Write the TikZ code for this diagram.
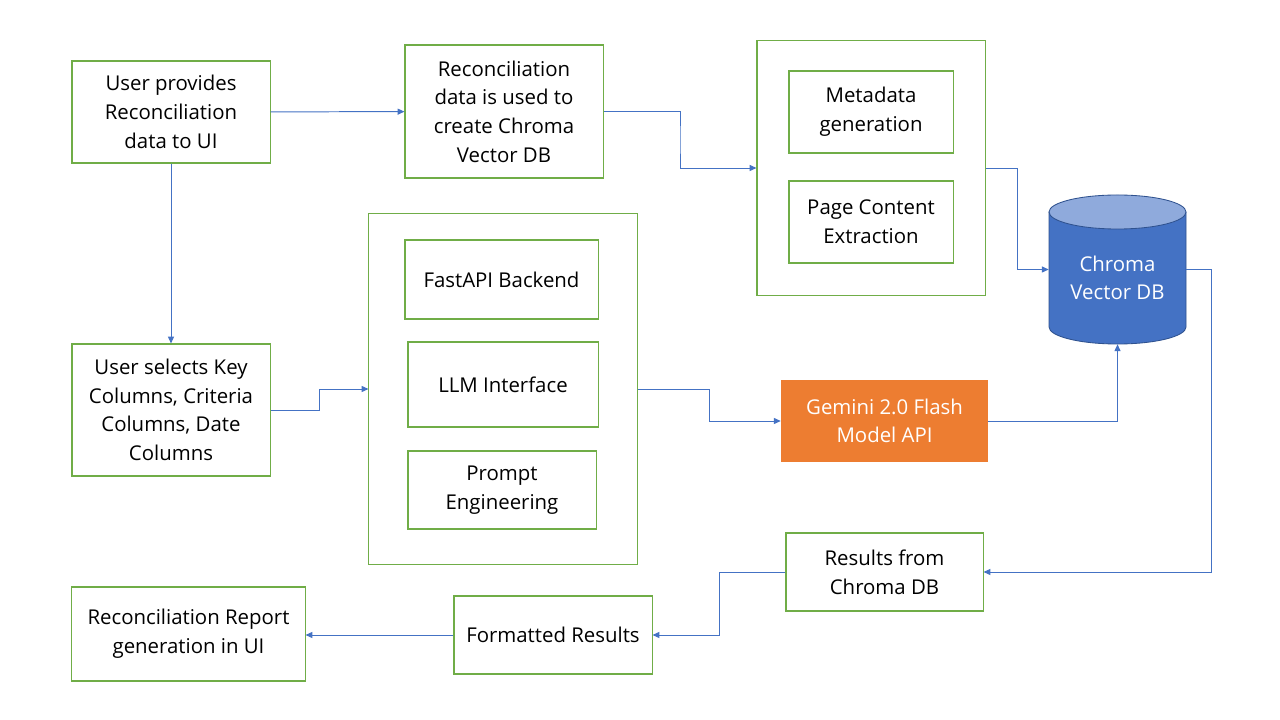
\documentclass[tikz,border=0pt]{standalone}
\usepackage{fontspec}
\setmainfont{Open Sans}
\usetikzlibrary{arrows.meta,calc}
\definecolor{boxgreen}{HTML}{70AD47}
\definecolor{linkblue}{HTML}{4472C4}
\definecolor{dbtop}{HTML}{8FAADC}
\definecolor{dbline}{HTML}{2F528F}
\definecolor{gemorange}{HTML}{ED7D31}

\begin{document}
\begin{tikzpicture}[x=0.025cm, y=-0.025cm,
    every node/.style={font=\fontsize{14.5}{20.4}\selectfont, align=center, inner sep=0pt},
    box/.style={draw=boxgreen, line width=0.75pt, fill=white},
    link/.style={draw=linkblue, line width=0.7pt, -{Triangle[length=0.17cm, width=0.15cm]}}]

      \useasboundingbox[fill=white] (0,0) rectangle (1280,720);

      % top row
      \node[box, minimum width=4.95cm, minimum height=2.55cm] (up) at (171,112) {User provides\\Reconciliation\\data to UI};
      \node[box, minimum width=4.95cm, minimum height=3.325cm] (rd) at (504,111.5) {Reconciliation\\data is used to\\create Chroma\\Vector DB};

      \node[box, minimum width=5.7cm, minimum height=6.35cm] (meta) at (871,168) {};
      \node[box, minimum width=4.1cm, minimum height=2.05cm] (md) at (871,112) {Metadata\\generation};
      \node[box, minimum width=4.1cm, minimum height=2.05cm] (pc) at (871,222) {Page Content\\Extraction};

      % vector store
      \node[minimum width=3.425cm, minimum height=3.725cm] (cyl) at (1117.5,269.5) {};
      \fill[linkblue] (1049,212) -- (1049,327) arc[start angle=180, end angle=360, x radius=1.7125cm, y radius=0.425cm] -- (1186,212) -- cycle;
      \draw[dbline, line width=0.6pt] (1049,212) -- (1049,327) arc[start angle=180, end angle=360, x radius=1.7125cm, y radius=0.425cm] -- (1186,212);
      \draw[dbline, line width=0.6pt, fill=dbtop] (1117.5,212) ellipse[x radius=1.7125cm, y radius=0.425cm];
      \node[text=white] at (1117.5,278) {Chroma\\Vector DB};

      % middle row
      \node[box, minimum width=4.95cm, minimum height=3.3cm] (us) at (171,410) {User selects Key\\Columns, Criteria\\Columns, Date\\Columns};

      \node[box, minimum width=6.7cm, minimum height=8.75cm] (mid) at (503,389) {};
      \node[box, minimum width=4.825cm, minimum height=1.975cm] (fa) at (501.5,279.5) {FastAPI Backend};
      \node[box, minimum width=4.75cm, minimum height=2.125cm] (llm) at (503,384.5) {LLM Interface};
      \node[box, minimum width=4.7cm, minimum height=1.95cm] (pe) at (502,490) {Prompt\\Engineering};

      \node[fill=gemorange, text=white, minimum width=5.175cm, minimum height=2.05cm] (gem) at (884.5,421) {Gemini 2.0 Flash\\Model API};

      % bottom row
      \node[box, minimum width=4.925cm, minimum height=1.95cm] (res) at (884.5,572) {Results from\\Chroma DB};
      \node[box, minimum width=4.95cm, minimum height=1.95cm] (fr) at (553,635) {Formatted Results};
      \node[box, minimum width=5.825cm, minimum height=2.35cm] (rep) at (188.5,634) {Reconciliation Report\\generation in UI};

      % links
      \draw[link] (up) -- (rd);
      \draw[link] (rd.east) -| ($(rd.east)!0.5!(meta.west)$) |- (meta.west);
      \draw[link] (meta.east) -| ($(meta.east)!0.5!(cyl.west)$) |- (cyl.west);
      \draw[link] (up) -- (us);
      \draw[link] (us.east) -| ($(us.east)!0.5!(mid.west)$) |- (mid.west);
      \draw[link] (mid.east) -| ($(mid.east)!0.5!(gem.west)$) |- (gem.west);
      \draw[link] (gem.east) -| (cyl.south);
      \draw[link] (cyl.east) -- ++(25,0) |- (res.east);
      \draw[link] (res.west) -| ($(res.west)!0.5!(fr.east)$) |- (fr.east);
      \draw[link] (fr.west) -- (rep.east |- fr.west);
\end{tikzpicture}
\end{document}
